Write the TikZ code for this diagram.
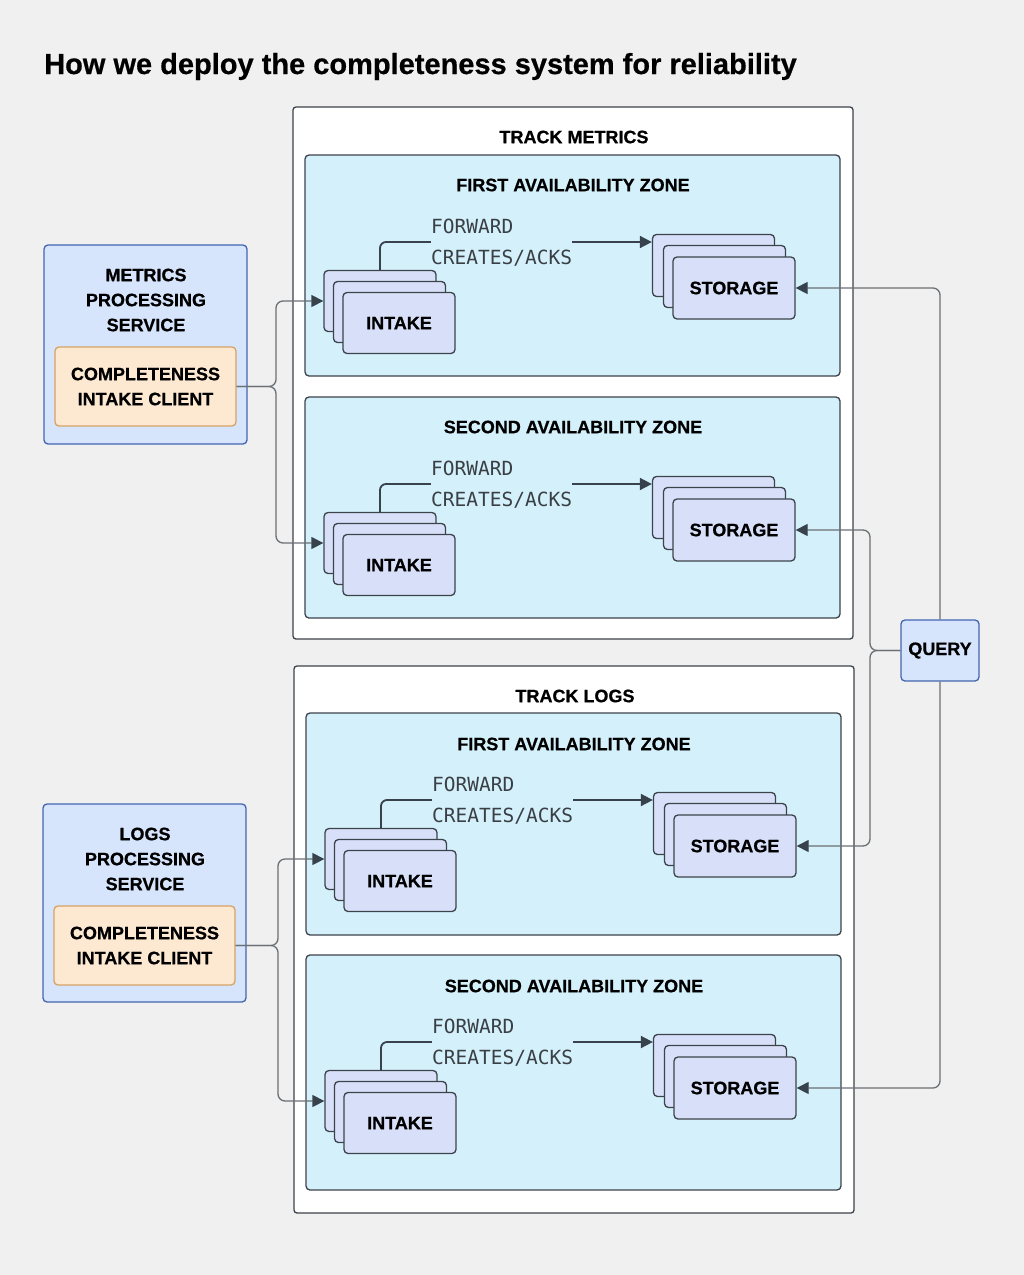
\documentclass[tikz,border=0pt]{standalone}
\usepackage{fontspec}
\setmainfont{Liberation Sans}
\newfontfamily\heavyfont[FakeBold=0.6]{Liberation Sans Bold}
\newfontfamily\monofnt{DejaVu Sans Mono}
\usetikzlibrary{arrows.meta,calc}
\definecolor{bgc}{HTML}{F0F0F0}
\definecolor{darkline}{HTML}{3C434B}
\definecolor{zonefill}{HTML}{D4F1FB}
\definecolor{cardfill}{HTML}{D7E0F8}
\definecolor{svcfill}{HTML}{D6E4FC}
\definecolor{svcline}{HTML}{4466B0}
\definecolor{clientfill}{HTML}{FDE9D2}
\definecolor{clientline}{HTML}{D5A366}
\definecolor{connc}{HTML}{6B7075}
\definecolor{arrowc}{HTML}{37424D}
\definecolor{monoc}{HTML}{3A3F45}
\newcommand\zonestuff[3]{%
\begin{scope}[shift={(#2,#3)}]
\node[intakecard] (#1i1) at (380,301) {};
\node[intakecard] (#1i2) at (389.5,312) {};
\node[intakecard] (#1i) at (399,323) {INTAKE};
\node[storecard] (#1s1) at (713.5,265.5) {};
\node[storecard] (#1s2) at (724.5,276.5) {};
\node[storecard] (#1s) at (734,288) {STORAGE};
\draw[fwd] (#1i1.north) |- ([yshift=23.5pt]#1s1.west);
\node[fwdlbl] (#1f) at (431,242.5) {FORWARD\\CREATES/ACKS};
\end{scope}}
\begin{document}
\begin{tikzpicture}[x=1pt,y=-1pt,
  track/.style={draw=darkline, fill=white, line width=1.3pt, rounded corners=3pt, inner sep=0pt},
  zone/.style={draw=darkline, fill=zonefill, line width=1.3pt, rounded corners=4pt, inner sep=0pt},
  card/.style={draw=darkline, fill=cardfill, line width=1.3pt, rounded corners=4pt, font=\heavyfont\fontsize{18}{20}\selectfont},
  intakecard/.style={card, minimum width=112pt, minimum height=61pt},
  storecard/.style={card, minimum width=122pt, minimum height=62pt},
  lbl/.style={font=\heavyfont\fontsize{18}{25}\selectfont, align=center},
  svc/.style={draw=svcline, fill=svcfill, line width=1.3pt, rounded corners=4pt, inner sep=0pt},
  client/.style={draw=clientline, fill=clientfill, line width=1.3pt, rounded corners=4pt, font=\heavyfont\fontsize{18}{25}\selectfont, align=center},
  fwdlbl/.style={fill=zonefill, anchor=west, inner sep=0pt, align=left, text=monoc, font=\monofnt\fontsize{19.5}{31}\selectfont},
  fwd/.style={draw=arrowc, line width=1.8pt, rounded corners=6pt, -{Triangle[length=12pt,width=12pt]}},
  conn/.style={draw=connc, line width=1.3pt, rounded corners=7pt, -{Triangle[length=12pt,width=12pt,color=arrowc]}}
]
\fill[bgc] (0,0) rectangle (1024,1275);
\useasboundingbox (0,0) rectangle (1024,1275);

\node[anchor=base west, inner sep=0pt, font=\heavyfont\fontsize{29}{32}\selectfont] (title) at (44,74) {How we deploy the completeness system for reliability};

% track boxes
\node[track, minimum width=560pt, minimum height=532pt] (tm) at (573,373) {};
\node[track, minimum width=560pt, minimum height=547pt] (tl) at (574,939.5) {};
\node[lbl] (tmt) at (574,137) {TRACK METRICS};
\node[lbl] (tlt) at (575,696) {TRACK LOGS};

% zones
\node[zone, minimum width=535pt, minimum height=221pt] (mz1) at (572.5,265.5) {};
\node[zone, minimum width=535pt, minimum height=221pt] (mz2) at (572.5,507.5) {};
\node[zone, minimum width=535pt, minimum height=222pt] (lz1) at (573.5,824) {};
\node[zone, minimum width=535pt, minimum height=235pt] (lz2) at (573.5,1072.5) {};
\node[lbl] (mz1t) at (573,185) {FIRST AVAILABILITY ZONE};
\node[lbl] (mz2t) at (573,427) {SECOND AVAILABILITY ZONE};
\node[lbl] (lz1t) at (574,744) {FIRST AVAILABILITY ZONE};
\node[lbl] (lz2t) at (574,986) {SECOND AVAILABILITY ZONE};

\zonestuff{ma}{0}{0}
\zonestuff{mb}{0}{242}
\zonestuff{la}{1}{558}
\zonestuff{lb}{1}{800}

% services
\node[svc, minimum width=203pt, minimum height=199pt] (ms) at (145.5,344.5) {};
\node[lbl] (mst) at (146,300) {METRICS\\PROCESSING\\SERVICE};
\node[client, minimum width=181pt, minimum height=79pt] (mc) at (145.5,386.5) {COMPLETENESS\\INTAKE CLIENT};
\node[svc, minimum width=203pt, minimum height=198pt] (ls) at (144.5,903) {};
\node[lbl] (lst) at (145,859) {LOGS\\PROCESSING\\SERVICE};
\node[client, minimum width=181pt, minimum height=79pt] (lc) at (144.5,945.5) {COMPLETENESS\\INTAKE CLIENT};

% query
\node[svc, minimum width=78pt, minimum height=61pt, font=\heavyfont\fontsize{18}{20}\selectfont] (q) at (940,650.5) {QUERY};

% connectors
\coordinate (mbr) at (276,386.5);
\coordinate (lbr) at (278,945.5);
\coordinate (qbr) at (870,650.5);
\draw[conn] (mc.east) -- (mbr) |- (mai1.west);
\draw[conn] (mc.east) -- (mbr) |- (mbi1.west);
\draw[conn] (lc.east) -- (lbr) |- (lai1.west);
\draw[conn] (lc.east) -- (lbr) |- (lbi1.west);
\draw[conn] (q.north) |- (mas.east);
\draw[conn] (q.south) |- (lbs.east);
\draw[conn] (q.west) -- (qbr) |- (mbs.east);
\draw[conn] (q.west) -- (qbr) |- (las.east);
\end{tikzpicture}
\end{document}
